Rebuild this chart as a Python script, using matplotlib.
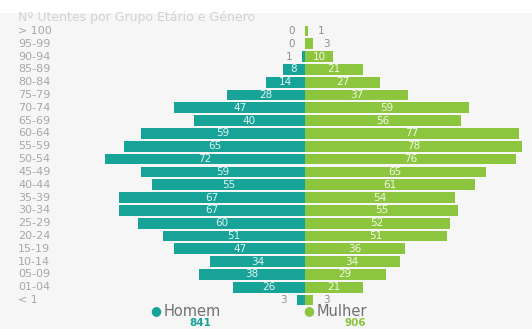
import matplotlib.pyplot as plt
import numpy as np

# ── Data ──────────────────────────────────────────────────────────────────────
groups = ["> 100", "95-99", "90-94", "85-89", "80-84", "75-79", "70-74",
          "65-69", "60-64", "55-59", "50-54", "45-49", "40-44", "35-39",
          "30-34", "25-29", "20-24", "15-19", "10-14", "05-09", "01-04", "< 1"]
homem = [0, 0, 1, 8, 14, 28, 47, 40, 59, 65, 72, 59, 55, 67, 67, 60, 51, 47,
         34, 38, 26, 3]
mulher = [1, 3, 10, 21, 27, 37, 59, 56, 77, 78, 76, 65, 61, 54, 55, 52, 51, 36,
          34, 29, 21, 3]

C_H = "#17a398"
C_M = "#8cc63e"
BG = "#f6f6f6"

# ── Figure ────────────────────────────────────────────────────────────────────
fig = plt.figure(figsize=(5.32, 3.29), dpi=100, facecolor="white")
ax = fig.add_axes([0, 0, 1, 1 - 13 / 329])
ax.set_facecolor(BG)
for s in ax.spines.values():
    s.set_visible(False)
ax.set_xticks([])
ax.set_yticks([])

y = np.arange(len(groups))
h = np.array(homem)
m = np.array(mulher)

ax.barh(y, -h, height=0.84, color=C_H, zorder=2)
ax.barh(y, m, height=0.84, color=C_M, zorder=2)

# scale: centre at 305 px, ~2.78 px per unit
ax.set_xlim(-305 / 2.78, (532 - 305) / 2.78)
ax.set_ylim((329 - 31) / 12.81, (13 - 31) / 12.81)

for i in range(len(groups)):
    ax.text((18 - 305) / 2.78, i, groups[i], ha="left", va="center",
            fontsize=8, color="#a8a8a8")
    if h[i] >= 8:
        ax.text(-h[i] / 2, i, str(h[i]), ha="center", va="center",
                fontsize=7.5, color="#dff3f0", zorder=3)
    else:
        ax.text(-h[i] - 3.5, i, str(h[i]), ha="right", va="center",
                fontsize=7.5, color="#909090", zorder=3)
    if m[i] >= 8:
        ax.text(m[i] / 2, i, str(m[i]), ha="center", va="center",
                fontsize=7.5, color="#f1f8e6", zorder=3)
    else:
        ax.text(m[i] + 3.5, i, str(m[i]), ha="left", va="center",
                fontsize=7.5, color="#909090", zorder=3)

# title
fig.text(18 / 532, 1 - 17 / 329, "Nº Utentes por Grupo Etário e Género",
         ha="left", va="center", fontsize=9, color="#d2d2d2")

# legend with totals
fig.text(156 / 532, 1 - 311 / 329, "●", ha="center", va="center",
         fontsize=9, color=C_H)
fig.text(164 / 532, 1 - 311 / 329, "Homem", ha="left", va="center",
         fontsize=10.5, color="#707070")
fig.text(200 / 532, 1 / 329, str(h.sum()), ha="center", va="bottom",
         fontsize=7.5, fontweight="bold", color=C_H)
fig.text(309 / 532, 1 - 311 / 329, "●", ha="center", va="center",
         fontsize=9, color=C_M)
fig.text(317 / 532, 1 - 311 / 329, "Mulher", ha="left", va="center",
         fontsize=10.5, color="#707070")
fig.text(355 / 532, 1 / 329, str(m.sum()), ha="center", va="bottom",
         fontsize=7.5, fontweight="bold", color=C_M)

fig.savefig("out.png", dpi=100, facecolor="white")
